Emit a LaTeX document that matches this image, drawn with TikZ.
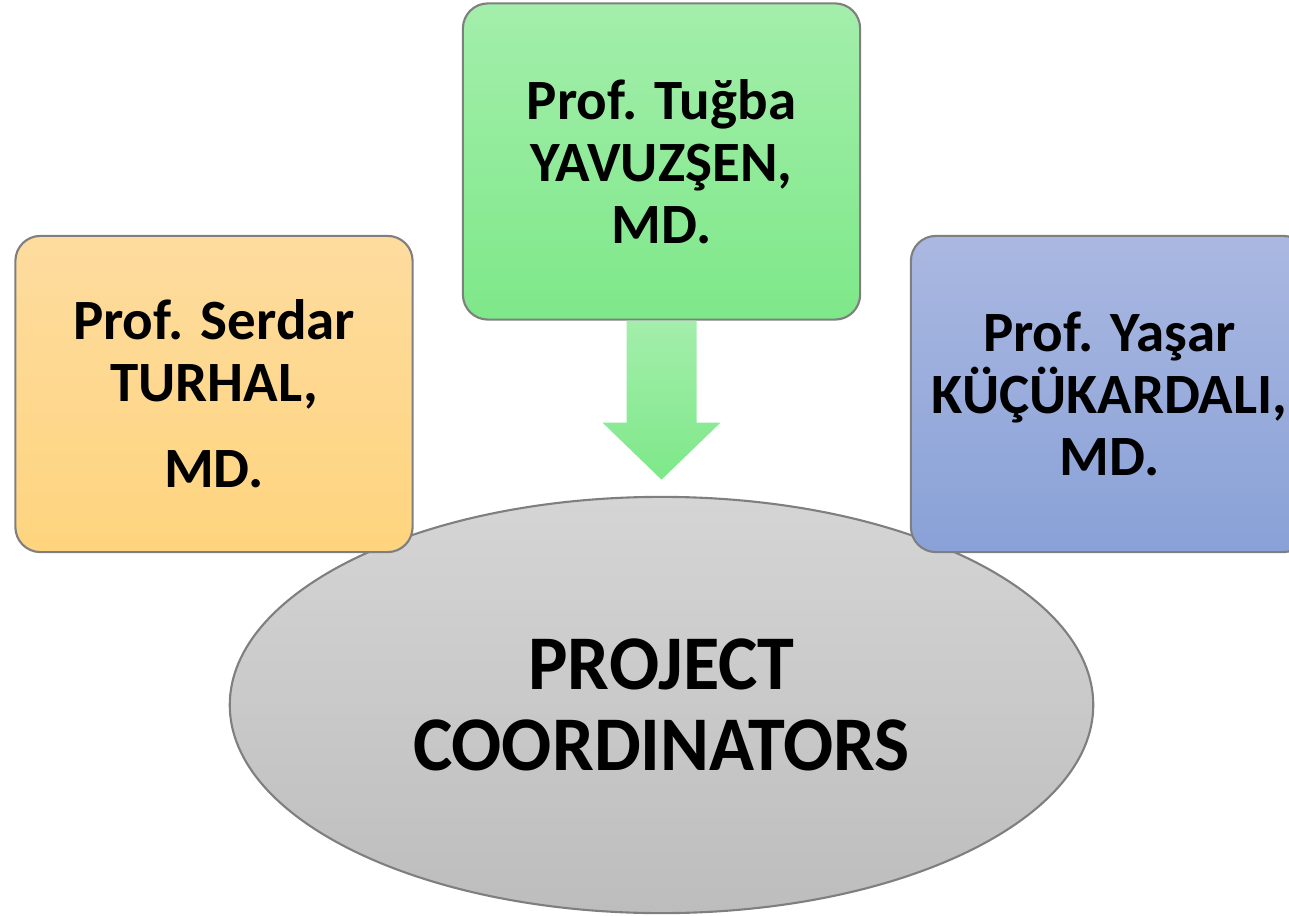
\documentclass[tikz,border=0pt]{standalone}
\usepackage{fontspec}
\setmainfont{Carlito}
\usepackage{graphicx}
\usetikzlibrary{shapes.geometric}
\usetikzlibrary{calc}

\definecolor{edgegray}{HTML}{7F7F7F}
\definecolor{orangetop}{HTML}{FEDC9F}
\definecolor{orangebot}{HTML}{FED47E}
\definecolor{greentop}{HTML}{A3EEAB}
\definecolor{greenbot}{HTML}{7EE889}
\definecolor{bluetop}{HTML}{AAB8E1}
\definecolor{bluebot}{HTML}{89A1D7}
\definecolor{graytop}{HTML}{D5D5D5}
\definecolor{graybot}{HTML}{BDBDBD}

\begin{document}
\begin{tikzpicture}[x=0.01cm,y=-0.01cm,
    person/.style={draw=edgegray,line width=0.6pt,rounded corners=0.25cm,
      minimum width=3.97cm,minimum height=3.16cm,align=center,
      font=\fontsize{16.2}{17.6}\selectfont\bfseries},
    hub/.style={ellipse,draw=edgegray,line width=0.6pt,inner sep=0pt,
      minimum width=8.63cm,minimum height=4.16cm,align=center,
      top color=graytop,bottom color=graybot,
      font=\fontsize{22}{23}\selectfont\bfseries}]
        \clip (0,0) rectangle (1289,916);

        \node[hub] (coord) at (661.5,705) {\scalebox{0.96}[1]{PROJECT}\\\scalebox{0.96}[1]{COORDINATORS}};

        \node[person,top color=orangetop,bottom color=orangebot] (serdar) at (214,394)
          {Prof. Serdar\\TURHAL,\\[6.8pt]MD.};
        \node[person,top color=greentop,bottom color=greenbot] (tugba) at (661.5,161.5)
          {Prof. Tuğba\\YAVUZŞEN,\\MD.};
        \node[person,top color=bluetop,bottom color=bluebot] (yasar) at (1109.5,394)
          {Prof. Yaşar\\KÜÇÜKARDALI,\\MD.};

        \shade[top color=greentop,bottom color=greenbot] (tugba.south) ++(-35,0) -- ++(0,102) -- ++(-24,0)
          -- ++(59,57) -- ++(59,-57) -- ++(-24,0) -- ++(0,-102) -- cycle;
      \end{tikzpicture}
\end{document}
